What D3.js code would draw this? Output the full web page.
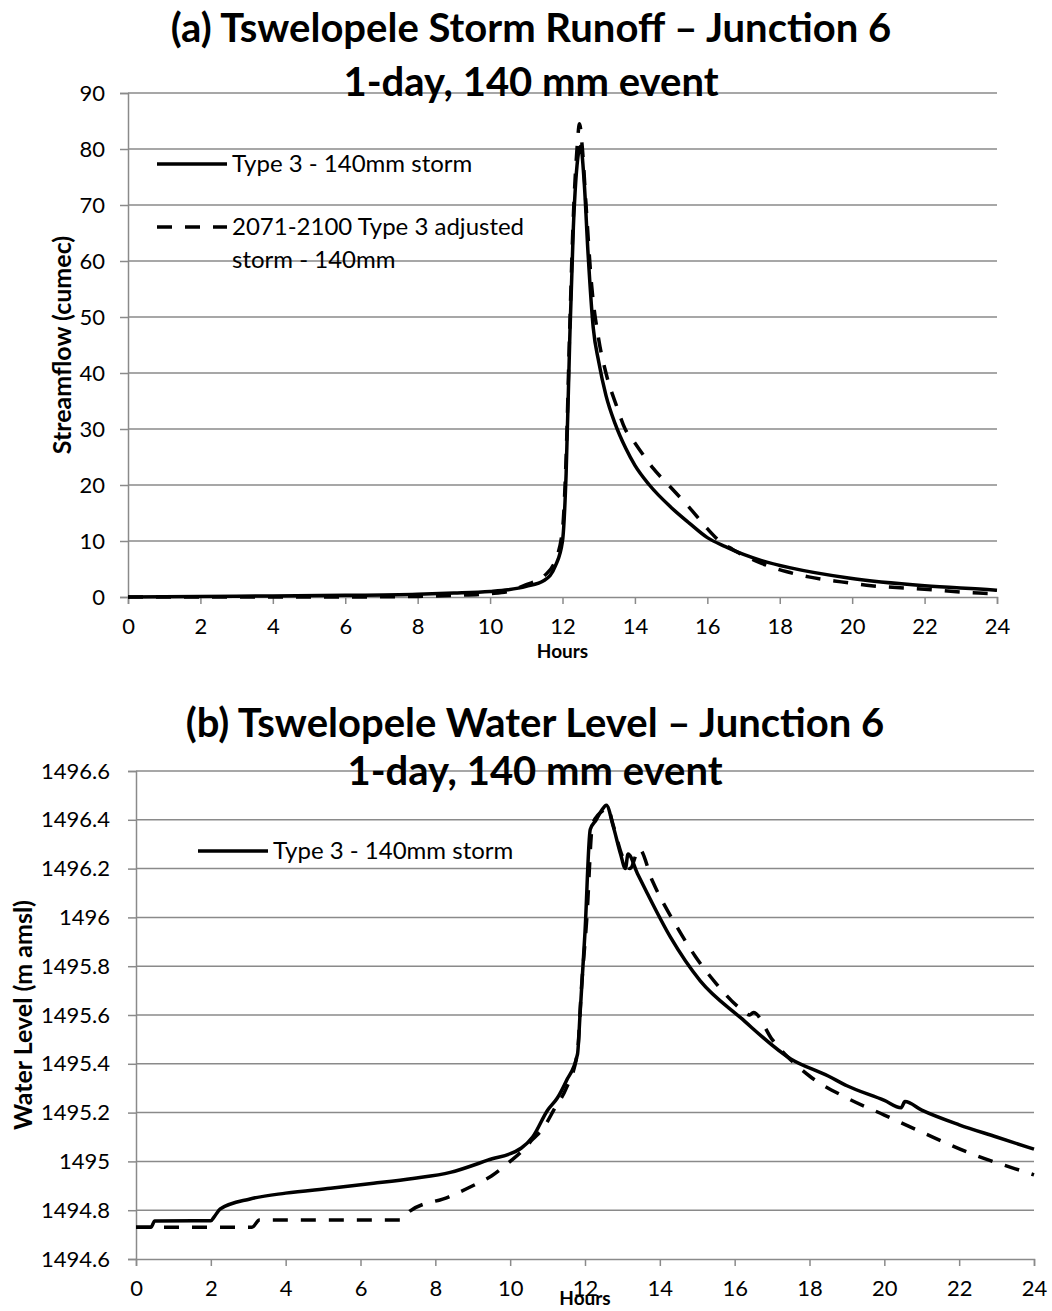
<!DOCTYPE html>
<meta charset="utf-8">
<script src="https://d3js.org/d3.v7.min.js"></script>
<style>
  body { margin: 0; background: #fff; }
  text { font-family: Lato, "Open Sans", sans-serif; }
</style>
<body>
<div id="container"></div>
<script>
// ---- data ----
var hourTicks = [0, 2, 4, 6, 8, 10, 12, 14, 16, 18, 20, 22, 24];

// (a) streamflow, cumec
var flowTicks = [0, 10, 20, 30, 40, 50, 60, 70, 80, 90];
var flowHoursNow = [0, 2, 4, 6, 8, 9, 10, 10.5, 11, 11.5, 11.8, 12.0, 12.1, 12.2, 12.3, 12.4, 12.5, 12.6, 12.7, 12.85, 13.0, 13.2, 13.45, 13.75, 14, 14.4, 15, 15.5, 16, 16.5, 17, 17.5, 18.3, 19.9, 22, 23.9, 24];
var flowNow = [0, 0.1, 0.2, 0.3, 0.5, 0.7, 1.0, 1.3, 1.9, 3.0, 5.5, 10, 22, 46, 66, 77, 80.5, 74, 62, 48, 42, 36, 31, 26.5, 23.5, 20, 16, 13.2, 10.6, 9.0, 7.6, 6.5, 5.2, 3.4, 2.0, 1.25, 1.2];
var flowHoursFuture = [0, 2, 4, 6, 8, 9, 10, 10.5, 11, 11.5, 11.8, 12.0, 12.1, 12.2, 12.3, 12.4, 12.47, 12.55, 12.65, 12.8, 13.0, 13.2, 13.5, 13.73, 14, 14.5, 15, 15.5, 16, 16.3, 16.7, 17.5, 18.2, 18.8, 19.7, 20.4, 22, 23.5, 24];
var flowFuture = [0, 0, 0, 0, 0.1, 0.3, 0.6, 1.0, 2.2, 3.8, 6.5, 12, 25, 48, 68, 80, 84.5, 80, 70, 56, 46, 40, 34, 30, 27.5, 23, 19.5, 16, 12.2, 10.2, 8.5, 6.0, 4.5, 3.6, 2.7, 2.1, 1.4, 0.7, 0.6];

// (b) water level, m amsl
var levelTicks = [1494.6, 1494.8, 1495, 1495.2, 1495.4, 1495.6, 1495.8, 1496, 1496.2, 1496.4, 1496.6];
var levelHoursNow = [0, 0.4, 0.5, 2.0, 2.1, 2.25, 3.05, 4, 5.2, 6.35, 7.4, 8.4, 9.4, 10.3, 10.6, 11.0, 11.26, 11.5, 11.8, 11.87, 12.0, 12.14, 12.3, 12.45, 12.57, 12.76, 12.95, 13.08, 13.15, 13.4, 13.66, 14.28, 15.08, 16.15, 17.5, 18.5, 19.0, 20.0, 20.45, 20.55, 21, 22, 23, 24];
var levelNow = [1494.73, 1494.73, 1494.756, 1494.757, 1494.775, 1494.805, 1494.846, 1494.87, 1494.89, 1494.91, 1494.93, 1494.955, 1495.005, 1495.055, 1495.1, 1495.21, 1495.26, 1495.33, 1495.44, 1495.61, 1495.94, 1496.36, 1496.4, 1496.44, 1496.46, 1496.37, 1496.26, 1496.2, 1496.26, 1496.18, 1496.1, 1495.92, 1495.74, 1495.59, 1495.42, 1495.35, 1495.31, 1495.25, 1495.22, 1495.245, 1495.21, 1495.15, 1495.1, 1495.05];
var levelHoursFuture = [0, 3.1, 3.3, 7.06, 7.33, 8.35, 9, 9.5, 10, 10.3, 10.6, 10.9, 11.2, 11.5, 11.8, 11.9, 12.05, 12.2, 12.35, 12.5, 12.6, 12.75, 13.0, 13.2, 13.45, 13.8, 14.5, 14.95, 15.5, 16.2, 16.4, 16.5, 17, 18, 19, 20, 21, 22.35, 23.9, 24];
var levelFuture = [1494.73, 1494.73, 1494.76, 1494.76, 1494.797, 1494.854, 1494.9, 1494.94, 1495.0, 1495.04, 1495.09, 1495.14, 1495.22, 1495.3, 1495.45, 1495.7, 1496.0, 1496.38, 1496.42, 1496.44, 1496.45, 1496.38, 1496.25, 1496.2, 1496.28, 1496.15, 1495.95, 1495.84, 1495.73, 1495.62, 1495.6, 1495.61, 1495.5, 1495.35, 1495.26, 1495.19, 1495.12, 1495.03, 1494.95, 1494.945];

var svg = d3.select("#container").append("svg")
  .attr("width", 1052)
  .attr("height", 1311);

function zip(hs, vs) { return hs.map(function(h, i) { return [h, vs[i]]; }); }

// draws one panel; box = plot area in page pixels
function panel(opt) {
  var x = d3.scaleLinear().domain([0, 24]).range([opt.left, opt.right]);
  var y = d3.scaleLinear().domain(opt.yDomain).range([opt.bottom, opt.top]);
  var g = svg.append("g");

  // gridlines
  g.selectAll(".grid").data(opt.yTicks.slice(1)).enter().append("line")
    .attr("x1", opt.left).attr("x2", opt.right)
    .attr("y1", function(d) { return y(d); }).attr("y2", function(d) { return y(d); })
    .attr("stroke", "#8a8a8a").attr("stroke-width", 1.5);

  // axes
  var ax = g.append("g").attr("transform", "translate(0," + opt.bottom + ")")
    .call(d3.axisBottom(x).tickValues(hourTicks).tickSize(7).tickPadding(14).tickFormat(d3.format("d")));
  var ay = g.append("g").attr("transform", "translate(" + opt.left + ",0)")
    .call(d3.axisLeft(y).tickValues(opt.yTicks).tickSize(8).tickPadding(opt.tickPad)
      .tickFormat(function(d) { return String(+d.toFixed(1)); }));
  [ax, ay].forEach(function(a) {
    a.select(".domain").attr("stroke", "#8a8a8a").attr("stroke-width", 1.5);
    a.selectAll(".tick line").attr("stroke", "#8a8a8a").attr("stroke-width", 1.5);
    a.selectAll(".tick text").attr("fill", "#000").style("font-size", "22px").style("font-family", "Lato");
  });
  ax.selectAll(".tick text").attr("dy", "0.71em");

  // series
  var line = d3.line().x(function(d) { return x(d[0]); }).y(function(d) { return y(d[1]); })
    .curve(d3.curveMonotoneX);
  g.append("path").datum(zip(opt.hNow, opt.vNow)).attr("d", line)
    .attr("fill", "none").attr("stroke", "#000").attr("stroke-width", 3.5).attr("stroke-linejoin", "round");
  g.append("path").datum(zip(opt.hFut, opt.vFut)).attr("d", line)
    .attr("fill", "none").attr("stroke", "#000").attr("stroke-width", 3.5)
    .attr("stroke-dasharray", "15,13");

  // titles
  var t = g.append("text").attr("text-anchor", "middle").attr("x", opt.titleX)
    .style("font-size", "40px").style("font-weight", "bold");
  t.append("tspan").attr("x", opt.titleX).attr("y", opt.titleY).text(opt.title1);
  t.append("tspan").attr("x", opt.titleX).attr("y", opt.titleY + opt.titleGap).text(opt.title2);

  g.append("text").attr("text-anchor", "middle")
    .attr("x", (opt.left + opt.right) / 2).attr("y", opt.hoursY)
    .style("font-size", "19px").style("font-weight", "bold").text("Hours");

  g.append("text").attr("text-anchor", "middle")
    .attr("transform", "translate(" + opt.yLabelX + "," + (opt.top + opt.bottom) / 2 + ") rotate(-90)")
    .style("font-size", "25px").style("font-weight", "bold").text(opt.yLabel);

  return g;
}

var ga = panel({
  left: 128, right: 997, top: 93, bottom: 597,
  yDomain: [0, 90], yTicks: flowTicks, tickPad: 15,
  hNow: flowHoursNow, vNow: flowNow, hFut: flowHoursFuture, vFut: flowFuture,
  title1: "(a) Tswelopele Storm Runoff \u2013 Junction 6", title2: "1-day, 140 mm event",
  titleX: 531, titleY: 42, titleGap: 54,
  hoursY: 658, yLabel: "Streamflow (cumec)", yLabelX: 71
});

var gb = panel({
  left: 136, right: 1034, top: 771, bottom: 1259,
  yDomain: [1494.6, 1496.6], yTicks: levelTicks, tickPad: 18,
  hNow: levelHoursNow, vNow: levelNow, hFut: levelHoursFuture, vFut: levelFuture,
  title1: "(b) Tswelopele Water Level \u2013 Junction 6", title2: "1-day, 140 mm event",
  titleX: 535, titleY: 737, titleGap: 48,
  hoursY: 1305, yLabel: "Water Level (m amsl)", yLabelX: 32
});

// legends
function legendItem(g, x0, y0, dashed, lines) {
  g.append("line").attr("x1", x0).attr("x2", x0 + 70).attr("y1", y0).attr("y2", y0)
    .attr("stroke", "#000").attr("stroke-width", 3.5)
    .attr("stroke-dasharray", dashed ? "15,13" : null);
  lines.forEach(function(s, i) {
    g.append("text").attr("x", x0 + 75).attr("y", y0 + i * 33).attr("dy", "0.35em")
      .style("font-size", "24px").text(s);
  });
}
legendItem(ga, 157, 164, false, ["Type 3 - 140mm storm"]);
legendItem(ga, 157, 227, true, ["2071-2100 Type 3 adjusted", "storm - 140mm"]);
legendItem(gb, 198, 851, false, ["Type 3 - 140mm storm"]);
</script>
</body>
